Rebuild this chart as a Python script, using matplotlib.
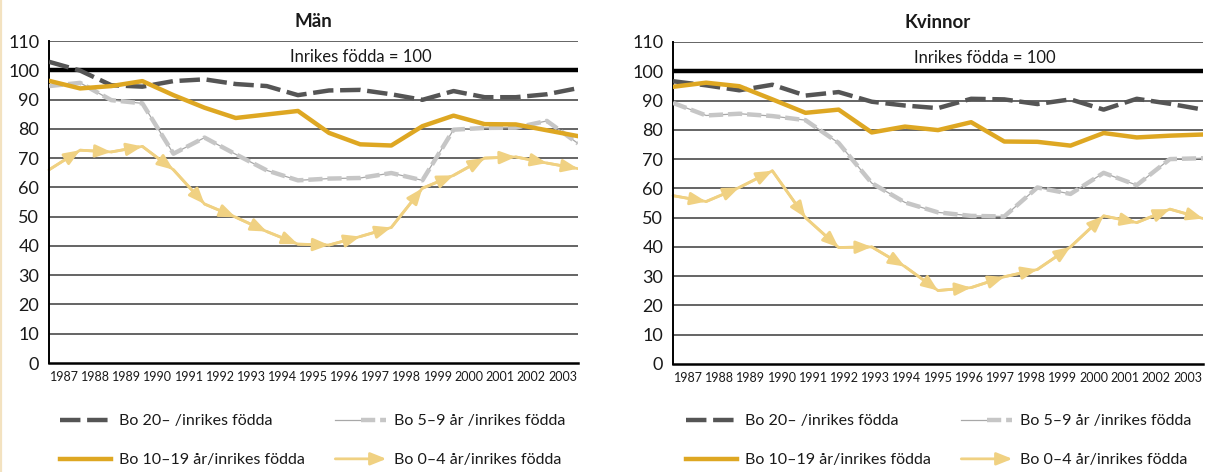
import numpy as np
import matplotlib
matplotlib.use('Agg')
import matplotlib.pyplot as plt
from matplotlib.lines import Line2D
from matplotlib.patches import FancyArrowPatch
from matplotlib.legend_handler import HandlerBase, HandlerTuple

# ---------------- data ----------------
years = ['1987', '1988', '1989', '1990', '1991', '1992', '1993', '1994', '1995',
         '1996', '1997', '1998', '1999', '2000', '2001', '2002', '2003']

# Män (18 plotted points across the 17 labelled years)
man_bo20 = [102.9, 99.9, 94.9, 94.4, 96.3, 96.9, 95.3, 94.6, 91.5, 93.1, 93.3,
            91.8, 89.9, 92.9, 90.8, 90.8, 91.8, 93.9]
man_bo10_19 = [96.4, 93.8, 94.6, 96.3, 91.5, 87.2, 83.7, 84.9, 86.1, 78.6, 74.7,
               74.3, 80.9, 84.5, 81.6, 81.5, 79.5, 77.5]
man_bo5_9 = [94.6, 95.7, 89.8, 88.7, 71.5, 77.0, 71.3, 65.8, 62.4, 63.0, 63.2,
             64.9, 62.4, 79.7, 80.3, 80.4, 82.7, 75.0]
man_bo0_4 = [66.0, 72.7, 72.1, 74.0, 66.0, 54.3, 49.8, 44.9, 40.6, 40.3, 43.2,
             46.3, 59.7, 64.1, 70.0, 70.4, 68.3, 66.4]

# Kvinnor (17 points)
kv_bo20 = [96.6, 95.2, 93.5, 95.4, 91.7, 92.9, 89.6, 88.3, 87.4, 90.6, 90.4,
           88.8, 90.4, 86.9, 90.6, 88.9, 86.9]
kv_bo10_19 = [94.7, 96.1, 94.9, 90.4, 85.8, 86.9, 79.1, 81.1, 79.9, 82.6, 76.0,
              75.9, 74.6, 78.9, 77.4, 78.0, 78.4]
kv_bo5_9 = [89.2, 84.9, 85.5, 84.7, 83.3, 75.5, 61.8, 55.2, 51.8, 50.6, 50.4,
            60.3, 58.1, 65.3, 61.1, 70.0, 70.3]
kv_bo0_4 = [57.5, 55.5, 60.3, 66.0, 50.0, 39.8, 40.0, 33.3, 25.1, 26.1, 29.8,
            32.3, 40.0, 50.6, 48.3, 52.9, 49.7]

titles = ['Män', 'Kvinnor']
label_20 = 'Bo 20– /inrikes födda'
label_5_9 = 'Bo 5–9 år /inrikes födda'
label_10_19 = 'Bo 10–19 år/inrikes födda'
label_0_4 = 'Bo 0–4 år/inrikes födda'
ref_text = 'Inrikes födda = 100'
yticks = [0, 10, 20, 30, 40, 50, 60, 70, 80, 90, 100, 110]

# ---------------- style ----------------
plt.rcParams['font.family'] = ['Lato', 'DejaVu Sans']
C_TEXT = '#1a1a1a'
C_DARK = '#555555'
C_LGRAY = '#c6c6c6'
C_GOLD = '#dea722'
C_TAN = '#f0d182'
ARROW = '-|>,head_length=0.95,head_width=0.38'


class ArrowHandler(HandlerBase):
    def create_artists(self, legend, orig_handle, xdescent, ydescent, width,
                       height, fontsize, trans):
        y = height / 2 - ydescent
        a = FancyArrowPatch((-xdescent, y), (width - xdescent, y),
                            arrowstyle=ARROW, mutation_scale=10, color=C_TAN,
                            lw=2.0, shrinkA=0, shrinkB=0, transform=trans)
        return [a]


fig = plt.figure(figsize=(12.09, 4.72), dpi=100)
fig.add_artist(Line2D([0.001, 0.001], [0, 1], color='#f3e2c0', lw=1.6,
                      transform=fig.transFigure))

axes_rects = [[49 / 1209, 1 - 363 / 472, 529 / 1209, 322 / 472],
              [673 / 1209, 1 - 364 / 472, 530 / 1209, 322 / 472]]
legend_pos = [(60 / 1209, 1 - 414 / 472), (686 / 1209, 1 - 414 / 472)]

datasets = [(man_bo20, man_bo10_19, man_bo5_9, man_bo0_4),
            (kv_bo20, kv_bo10_19, kv_bo5_9, kv_bo0_4)]

for k in range(2):
    ax = fig.add_axes(axes_rects[k])
    s20, s10, s5, s0 = datasets[k]
    n = len(s20)
    x = np.arange(n)
    ax.set_xlim(0, n - 1)
    ax.set_ylim(0, 110)

    # grid
    for v in yticks[1:]:
        if v == 100:
            ax.axhline(v, color='black', lw=3.2, zorder=1)
        else:
            ax.axhline(v, color='#4a4a4a', lw=1.2, zorder=1)

    # series
    l20, = ax.plot(x, s20, color=C_DARK, lw=3.2, dashes=(4.6, 1.5),
                   solid_capstyle='butt', dash_capstyle='butt', zorder=5)
    thin5, = ax.plot(x, s5, color='#a8a8a8', lw=0.9, zorder=3)
    l5, = ax.plot(x, s5, color=C_LGRAY, lw=3.2, dashes=(3.2, 1.1),
                  dash_capstyle='butt', zorder=4)
    l10, = ax.plot(x, s10, color=C_GOLD, lw=3.2, zorder=6)
    l0, = ax.plot(x, s0, color=C_TAN, lw=2.0, zorder=2)
    for i in range(n - 1):
        ax.annotate('', xy=(x[i + 1], s0[i + 1]), xytext=(x[i], s0[i]),
                    arrowprops=dict(arrowstyle=ARROW, mutation_scale=10,
                                    color=C_TAN, lw=2.0, shrinkA=0, shrinkB=0),
                    zorder=2)

    # axes styling
    for side in ['top', 'right']:
        ax.spines[side].set_visible(False)
    ax.spines['left'].set_linewidth(1.4)
    ax.spines['bottom'].set_linewidth(1.8)
    ax.set_yticks(yticks)
    ax.set_yticklabels([str(v) for v in yticks], fontsize=13, color=C_TEXT)
    edges = np.linspace(0, n - 1, len(years) + 1)
    centers = (edges[:-1] + edges[1:]) / 2
    ax.set_xticks(centers)
    ax.set_xticklabels(years, fontsize=9, color=C_TEXT)
    ax.tick_params(axis='both', length=0)
    ax.tick_params(axis='y', pad=7)
    ax.tick_params(axis='x', pad=6)

    ax.set_title(titles[k], fontsize=13.5, fontweight='bold', pad=10,
                 color=C_TEXT)
    ax.text(0.589, 104.6, ref_text, transform=ax.get_yaxis_transform(),
            ha='center', va='center', fontsize=12, color=C_TEXT)

    # column-major order: col1 = 20-, 10-19 ; col2 = 5-9, 0-4
    handles = [l20, l10, (thin5, l5), l0]
    labels = [label_20, label_10_19, label_5_9, label_0_4]
    ax.legend(handles, labels, ncol=2, loc='upper left',
              bbox_to_anchor=legend_pos[k], bbox_transform=fig.transFigure,
              frameon=False, borderpad=0, borderaxespad=0,
              handlelength=3.2, handletextpad=0.5, columnspacing=1.9,
              labelspacing=1.57, labelcolor=C_TEXT,
              prop={'size': 11.5},
              handler_map={l0: ArrowHandler(),
                           tuple: HandlerTuple(ndivide=None, pad=0)})

fig.savefig('out.png', dpi=100)
